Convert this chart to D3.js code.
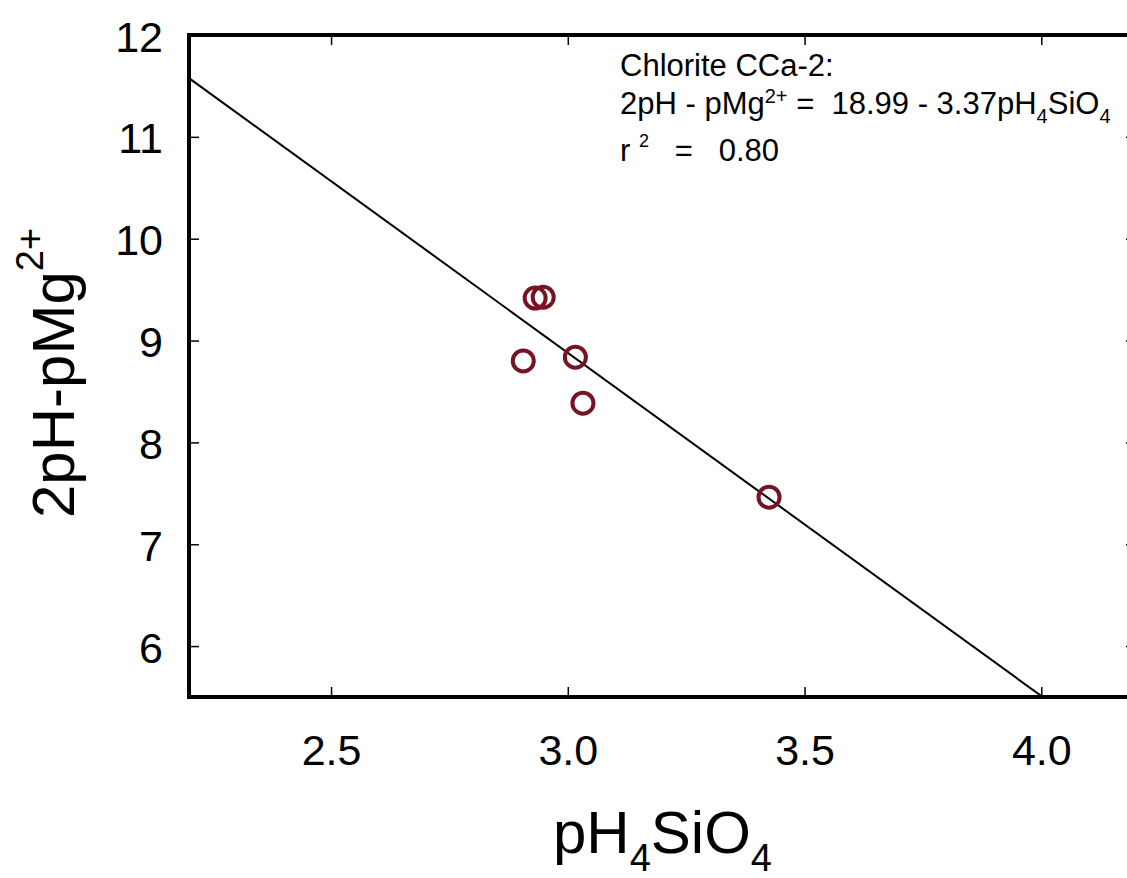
<!DOCTYPE html>
<html>
<head>
<meta charset="utf-8">
<script src="https://cdn.jsdelivr.net/npm/d3@7"></script>
<style>
  body { margin: 0; background: #fff; }
  svg { display: block; font-family: "Liberation Sans", Arial, sans-serif; }
</style>
</head>
<body>
<svg id="chart" width="1127" height="878"></svg>
<script>
// --- data ---
const pH4SiO4 = [2.931, 2.948, 2.906, 3.016, 3.032, 3.425];
const mgIndex = [9.417, 9.426, 8.80, 8.837, 8.385, 7.462];
const xTicks = [2.5, 3.0, 3.5, 4.0];
const yTicks = [6, 7, 8, 9, 10, 11, 12];
const fitIntercept = 18.99;
const fitSlope = -3.37;
const rSquared = 0.80;

const points = pH4SiO4.map((x, i) => ({ x: x, y: mgIndex[i] }));

const svg = d3.select("#chart");
const margin = { left: 189, top: 35, right: 1136, bottom: 697 };
const NB = "\u00a0";

const x = d3.scaleLinear().domain([2.2, 4.2]).range([margin.left, margin.right]);
const y = d3.scaleLinear().domain([5.5, 12]).range([margin.bottom, margin.top]);

// clip for the fit line
svg.append("defs").append("clipPath").attr("id", "plotClip")
  .append("rect")
  .attr("x", margin.left).attr("y", margin.top)
  .attr("width", margin.right - margin.left).attr("height", margin.bottom - margin.top);

// fit line
const fitX = x.domain();
svg.append("line")
  .attr("clip-path", "url(#plotClip)")
  .attr("x1", x(fitX[0])).attr("y1", y(fitIntercept + fitSlope * fitX[0]))
  .attr("x2", x(fitX[1])).attr("y2", y(fitIntercept + fitSlope * fitX[1]))
  .attr("stroke", "#000").attr("stroke-width", 2);

// points
svg.selectAll(".pt").data(points).enter().append("circle")
  .attr("class", "pt")
  .attr("cx", d => x(d.x)).attr("cy", d => y(d.y))
  .attr("r", 10.5)
  .attr("fill", "none")
  .attr("stroke", "#761425")
  .attr("stroke-width", 4);

// axes with inward ticks
const tickLen = 10;
const fmt = d3.format(".1f");
const axisStyle = g => {
  g.select(".domain").remove();
  g.selectAll(".tick line").attr("stroke", "#000").attr("stroke-width", 1.5);
};

svg.append("g").attr("transform", `translate(0,${margin.bottom})`)
  .call(d3.axisBottom(x).tickValues(xTicks).tickFormat(fmt).tickSize(-tickLen).tickPadding(0))
  .call(axisStyle)
  .call(g => g.selectAll(".tick text").attr("y", 68).attr("dy", 0)
    .attr("font-size", 43).attr("fill", "#000").attr("font-family", null));

svg.append("g").attr("transform", `translate(0,${margin.top})`)
  .call(d3.axisTop(x).tickValues(xTicks).tickSize(-tickLen).tickFormat(""))
  .call(axisStyle);

svg.append("g").attr("transform", `translate(${margin.left},0)`)
  .call(d3.axisLeft(y).tickValues(yTicks).tickFormat(d3.format("d")).tickSize(-tickLen).tickPadding(0))
  .call(axisStyle)
  .call(g => g.selectAll(".tick text").attr("x", -26).attr("dy", 16)
    .attr("font-size", 43).attr("fill", "#000").attr("font-family", null));

svg.append("g").attr("transform", `translate(${margin.right},0)`)
  .call(d3.axisRight(y).tickValues(yTicks).tickSize(-tickLen).tickFormat(""))
  .call(axisStyle);

// frame
svg.append("rect")
  .attr("x", margin.left).attr("y", margin.top)
  .attr("width", margin.right - margin.left).attr("height", margin.bottom - margin.top)
  .attr("fill", "none").attr("stroke", "#000").attr("stroke-width", 4);

// x title
const xt = svg.append("text")
  .attr("x", (margin.left + margin.right) / 2).attr("y", 853)
  .attr("text-anchor", "middle").attr("font-size", 60);
xt.append("tspan").text("pH");
xt.append("tspan").attr("font-size", 38).attr("dy", 18).text("4");
xt.append("tspan").attr("dy", -18).text("SiO");
xt.append("tspan").attr("font-size", 38).attr("dy", 18).text("4");

// y title
const yt = svg.append("text")
  .attr("transform", "translate(74,518) rotate(-90)")
  .attr("font-size", 60);
yt.append("tspan").text("2pH-pMg");
yt.append("tspan").attr("font-size", 38).attr("dy", -31).text("2+");

// equation annotation
const ann = svg.append("g").attr("font-size", 31);
ann.append("text").attr("x", 620).attr("y", 76).text("Chlorite CCa-2:");
const l2 = ann.append("text").attr("x", 620).attr("y", 114);
l2.append("tspan").text("2pH - pMg");
l2.append("tspan").attr("font-size", 20).attr("dy", -11).text("2+");
l2.append("tspan").attr("dy", 11)
  .text(NB + "=" + NB + NB + fitIntercept.toFixed(2) + " - " + (-fitSlope).toFixed(2) + "pH");
l2.append("tspan").attr("font-size", 20).attr("dy", 9).text("4");
l2.append("tspan").attr("dy", -9).text("SiO");
l2.append("tspan").attr("font-size", 20).attr("dy", 9).text("4");
const l3 = ann.append("text").attr("x", 620).attr("y", 161);
l3.append("tspan").text("r" + NB);
l3.append("tspan").attr("font-size", 18).attr("dy", -14).text("2");
l3.append("tspan").attr("dy", 14).text(NB + NB + NB + "=" + NB + NB + NB + rSquared.toFixed(2));
</script>
</body>
</html>
